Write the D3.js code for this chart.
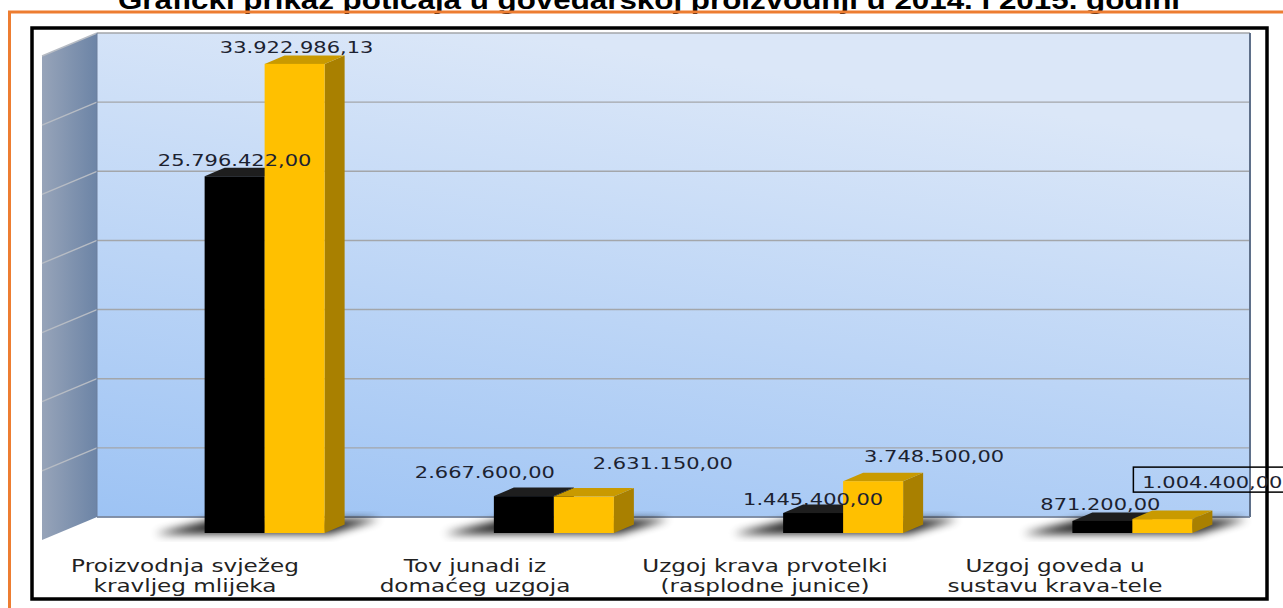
<html>
<head>
<meta charset="utf-8">
<script src="https://d3js.org/d3.v7.min.js"></script>
<style>
body { margin: 0; background: #fff; }
svg { display: block; }
.title { font-family: "Liberation Sans", Arial, sans-serif; font-weight: bold; font-size: 26px; fill: #000; }
.value { font-family: "DejaVu Sans", Verdana, sans-serif; font-size: 15px; fill: #1c2230; }
.cat { font-family: "DejaVu Sans", Verdana, sans-serif; font-size: 18.5px; fill: #222; }
</style>
</head>
<body>
<svg width="1283" height="608"></svg>
<script>

// data
var categories = [
    ["Proizvodnja svježeg", "kravljeg mlijeka"],
    ["Tov junadi iz", "domaćeg uzgoja"],
    ["Uzgoj krava prvotelki", "(rasplodne junice)"],
    ["Uzgoj goveda u", "sustavu krava-tele"]
];
var series = ["2014.", "2015."];
var values2014 = [25796422.00, 2667600.00, 1445400.00, 871200.00];
var values2015 = [33922986.13, 2631150.00, 3748500.00, 1004400.00];
var yTicks = [0, 5000000, 10000000, 15000000, 20000000, 25000000, 30000000, 35000000];
var title = "Grafički prikaz poticaja u govedarskoj proizvodnji u 2014. i 2015. godini";

// hand placed data labels (moved in the original), offsets from bar top
var nudge2014 = [[0, -10], [-39, -18], [0, -8], [-2, -11]];
var nudge2015 = [[2, -11], [79, -28], [61, -19], [50, -31]];
var boxed = [1, 3]; // series, category

var svg = d3.select("svg");
var defs = svg.append("defs");

var wg = defs.append("linearGradient").attr("id", "wallGrad")
    .attr("x1", "0").attr("y1", "1").attr("x2", "0.35").attr("y2", "0");
wg.append("stop").attr("offset", "0").attr("stop-color", "#9dc3f4");
wg.append("stop").attr("offset", "1").attr("stop-color", "#dbe7f8");

var sg = defs.append("linearGradient").attr("id", "sideGrad");
sg.append("stop").attr("offset", "0").attr("stop-color", "#97a4b9");
sg.append("stop").attr("offset", "1").attr("stop-color", "#6c84a6");

defs.append("filter").attr("id", "blur")
    .attr("x", "-50%").attr("y", "-50%").attr("width", "200%").attr("height", "200%")
  .append("feGaussianBlur").attr("stdDeviation", 4);

// geometry
var wall = {x0: 97, x1: 1250, top: 33, bottom: 517};
var depth = {dx: -55, dy: 23};     // back wall -> front of floor
var frontOff = 16;                 // bar front face sits lower than back wall
var bd = {dx: 20, dy: -8.5};       // bar depth

var keys = categories.map(function(d, i) { return "c" + i; });

var y = d3.scaleLinear().domain([0, 35000000]).range([wall.bottom, wall.top]);

var x0 = d3.scaleBand().domain(keys).range([120, 1277]);
var x1 = d3.scaleBand().domain(series).range([0, 120]);
var xl = d3.scaleBand().domain(keys).range([40, 1200]);

var fmt = d3.formatLocale({decimal: ",", thousands: ".", grouping: [3], currency: ["", ""]}).format(",.2f");

// title + frames
svg.append("text").attr("class", "title")
    .attr("x", 118).attr("y", 9)
    .attr("textLength", 1062).attr("lengthAdjust", "spacingAndGlyphs")
    .text(title);

svg.append("path")
    .attr("d", "M9.5,700 L9.5,12 L1300,12")
    .attr("fill", "none").attr("stroke", "#ed7d31").attr("stroke-width", 3);

svg.append("rect")
    .attr("x", 32).attr("y", 28).attr("width", 1235).attr("height", 571)
    .attr("fill", "#fff").attr("stroke", "#000").attr("stroke-width", 3.5);

// side wall
svg.append("polygon")
    .attr("points", [[wall.x0 + depth.dx, wall.top + depth.dy], [wall.x0, wall.top],
                     [wall.x0, wall.bottom], [wall.x0 + depth.dx, wall.bottom + depth.dy]].join(" "))
    .attr("fill", "url(#sideGrad)");

// back wall
svg.append("rect")
    .attr("x", wall.x0).attr("y", wall.top)
    .attr("width", wall.x1 - wall.x0).attr("height", wall.bottom - wall.top)
    .attr("fill", "url(#wallGrad)");

// gridlines
svg.selectAll(".grid").data(yTicks).enter().append("line")
    .attr("class", "grid")
    .attr("x1", wall.x0).attr("x2", wall.x1)
    .attr("y1", d => y(d)).attr("y2", d => y(d))
    .attr("stroke", "#a3a6aa").attr("stroke-width", 1.4);

svg.selectAll(".sgrid").data(yTicks.slice(1)).enter().append("line")
    .attr("class", "sgrid")
    .attr("x1", wall.x0).attr("x2", wall.x0 + depth.dx)
    .attr("y1", d => y(d)).attr("y2", d => y(d) + depth.dy)
    .attr("stroke", "#b7bcc4").attr("stroke-width", 1.4);

// wall edges
svg.append("line").attr("x1", wall.x1).attr("x2", wall.x1)
    .attr("y1", wall.top).attr("y2", wall.bottom)
    .attr("stroke", "#5f708a").attr("stroke-width", 2);
svg.append("line").attr("x1", wall.x0).attr("x2", wall.x1)
    .attr("y1", wall.bottom).attr("y2", wall.bottom)
    .attr("stroke", "#7486a2").attr("stroke-width", 1.5);
svg.append("line").attr("x1", wall.x0).attr("x2", wall.x0)
    .attr("y1", wall.top).attr("y2", wall.bottom)
    .attr("stroke", "#6c7f9c").attr("stroke-width", 1);

// table of bars
var bars = [];
keys.forEach(function(k, i) {
    [values2014[i], values2015[i]].forEach(function(v, s) {
        bars.push({key: k, ci: i, si: s, series: series[s], value: v});
    });
});

var baseFront = y(0) + frontOff;

// shadows
svg.selectAll(".shadow").data(keys).enter().append("polygon")
    .attr("class", "shadow")
    .attr("points", function(k) {
        var gx = x0(k) + x0.bandwidth() / 2 - 60;
        return [[gx - 50, baseFront + 1], [gx + 125, baseFront + 1],
                [gx + 175, baseFront - 14], [gx + 10, baseFront - 14]].join(" ");
    })
    .attr("fill", "#000").attr("opacity", 0.85)
    .attr("filter", "url(#blur)");

var colors = {
    "2014.": {front: "#000000", top: "#1e1e1e", side: "#0e0e0e"},
    "2015.": {front: "#ffc000", top: "#c99a00", side: "#a98000"}
};

var g = svg.selectAll(".bar").data(bars).enter().append("g").attr("class", "bar");

function bx(d) { return x0(d.key) + x0.bandwidth() / 2 - 60 + x1(d.series); }
function by(d) { return y(d.value) + frontOff; }

g.append("polygon")
    .attr("points", function(d) {
        var xx = bx(d), w = x1.bandwidth(), t = by(d);
        return [[xx + w, t], [xx + w + bd.dx, t + bd.dy], [xx + w + bd.dx, baseFront + bd.dy], [xx + w, baseFront]].join(" ");
    })
    .attr("fill", d => colors[d.series].side);

g.append("polygon")
    .attr("points", function(d) {
        var xx = bx(d), w = x1.bandwidth(), t = by(d);
        return [[xx, t], [xx + w, t], [xx + w + bd.dx, t + bd.dy], [xx + bd.dx, t + bd.dy]].join(" ");
    })
    .attr("fill", d => colors[d.series].top);

g.append("rect")
    .attr("x", d => bx(d))
    .attr("y", d => by(d))
    .attr("width", x1.bandwidth())
    .attr("height", d => baseFront - by(d))
    .attr("fill", d => colors[d.series].front);

// value labels
svg.selectAll(".value").data(bars).enter().append("text")
    .attr("class", "value")
    .attr("text-anchor", "middle")
    .attr("transform", function(d) {
        var n = d.si === 0 ? nudge2014[d.ci] : nudge2015[d.ci];
        var cx = bx(d) + x1.bandwidth() / 2 + n[0];
        return "translate(" + cx + "," + (by(d) + n[1]) + ") scale(1.4,1)";
    })
    .text(d => fmt(d.value));

// box around the moved label
var bb = bars.filter(d => d.si === boxed[0] && d.ci === boxed[1])[0];
var bcx = bx(bb) + x1.bandwidth() / 2 + nudge2015[bb.ci][0];
var bby = by(bb) + nudge2015[bb.ci][1];
svg.append("rect")
    .attr("x", bcx - 79).attr("y", bby - 21)
    .attr("width", 160).attr("height", 25)
    .attr("fill", "none").attr("stroke", "#000").attr("stroke-width", 1.5);

// category labels
categories.forEach(function(lines, i) {
    lines.forEach(function(t, j) {
        svg.append("text").attr("class", "cat")
            .attr("text-anchor", "middle")
            .attr("transform", "translate(" + (xl(keys[i]) + xl.bandwidth() / 2) + "," + (571.5 + j * 20.5) + ") scale(1.25,1)")
            .text(t);
    });
});

</script>
</body>
</html>
